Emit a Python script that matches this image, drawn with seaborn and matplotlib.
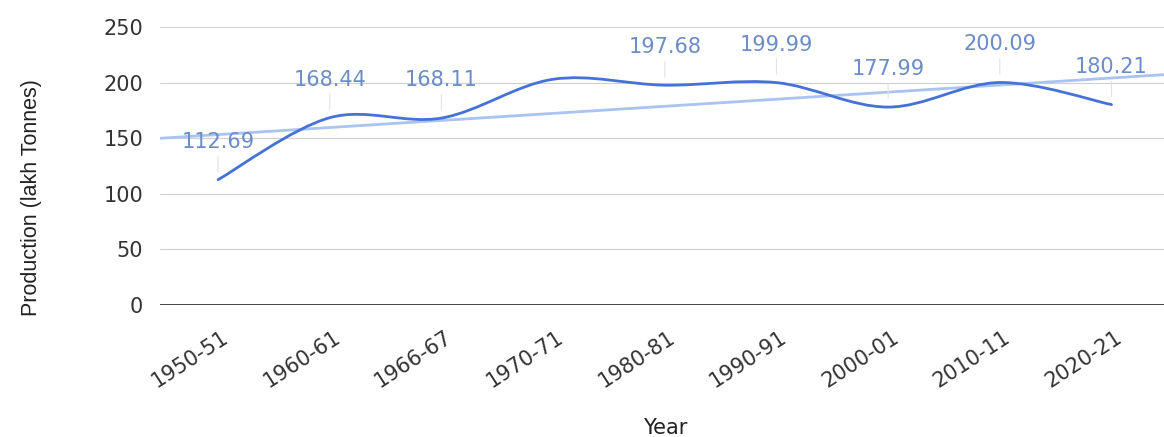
import numpy as np
import matplotlib
matplotlib.use("Agg")
import matplotlib.pyplot as plt
from matplotlib.path import Path
from matplotlib.patches import PathPatch
from matplotlib.transforms import ScaledTranslation
import seaborn as sns

# ---------------- data ----------------
years = ["1950-51", "1960-61", "1966-67", "1970-71", "1980-81",
         "1990-91", "2000-01", "2010-11", "2020-21"]
production = [112.69, 168.44, 168.11, 203.0, 197.68, 199.99, 177.99, 200.09, 180.21]
value_labels = ["112.69", "168.44", "168.11", "", "197.68",
                "199.99", "177.99", "200.09", "180.21"]
y_ticks = [0, 50, 100, 150, 200, 250]

# ---------------- style ----------------
sns.set_theme(style="white")
plt.rcParams["font.family"] = ["DejaVu Sans"]

LINE = "#4472d6"
TREND = "#a9c4f0"
LABEL = "#6b8cc7"

W, H = 1164, 437
fig = plt.figure(figsize=(W / 100, H / 100), dpi=100)
ax = fig.add_axes([160 / W, 1 - 305 / H, 1004 / W, 278 / H])

ax.set_xlim(-0.52, 8.47)
ax.set_ylim(0, 250)

# gridlines
ax.set_yticks(y_ticks)
ax.yaxis.grid(True, color="#cfcfcf", lw=0.8, zorder=0)
ax.xaxis.grid(False)
for s in ax.spines.values():
    s.set_visible(False)
ax.axhline(0, color="#333333", lw=1.3, zorder=3)

# trendline (linear regression extended over the whole plot width)
x_idx = np.arange(len(production))
sns.regplot(x=x_idx, y=production, scatter=False, ci=None, truncate=False,
            ax=ax, color=TREND, line_kws=dict(lw=2.0, zorder=2))
ax.set_xlim(-0.52, 8.47)
ax.set_ylim(0, 250)

# smooth main line (cubic Bezier through the data points)
xs = x_idx.astype(float)
ys = np.asarray(production, dtype=float)
n = len(xs)
verts = [(xs[0], ys[0])]
codes = [Path.MOVETO]
for i in range(n - 1):
    a = i - 1 if i > 0 else i
    b = i + 2 if i + 2 < n else i + 1
    c1 = (xs[i] + (xs[i + 1] - xs[a]) / 6, ys[i] + (ys[i + 1] - ys[a]) / 6)
    c2 = (xs[i + 1] - (xs[b] - xs[i]) / 6, ys[i + 1] - (ys[b] - ys[i]) / 6)
    verts += [c1, c2, (xs[i + 1], ys[i + 1])]
    codes += [Path.CURVE4] * 3
ax.add_patch(PathPatch(Path(verts, codes), fill=False, edgecolor=LINE,
                       lw=2.0, zorder=4, capstyle="round", joinstyle="round"))

# value labels with faint stems
for i, lab in enumerate(value_labels):
    if not lab:
        continue
    ax.annotate(lab, xy=(i, production[i]), xytext=(0, 27.4),
                textcoords="offset points", ha="center", va="center",
                fontsize=15, color=LABEL, annotation_clip=False, zorder=5,
                arrowprops=dict(arrowstyle="-", color="#e2e2e2", lw=0.8,
                                shrinkA=1, shrinkB=6))

# ticks
ax.set_xticks(x_idx)
ax.set_xticklabels(years, rotation=33, ha="right", va="top", fontsize=15,
                   color="#333333")
ax.tick_params(axis="x", length=0, pad=16)
off = ScaledTranslation(14 / 100, 0, fig.dpi_scale_trans)
for t in ax.get_xticklabels():
    t.set_transform(t.get_transform() + off)
ax.tick_params(axis="y", length=0, pad=12, labelsize=15, labelcolor="#333333")

# axis titles
ax.set_ylabel("Production (lakh Tonnes)", fontsize=15.5, color="#222222",
              family=["Liberation Sans", "DejaVu Sans"])
ax.yaxis.set_label_coords(-0.118, 0.385)
ax.set_xlabel("Year", fontsize=15, color="#222222")
ax.xaxis.set_label_coords(0.503, -0.406)

fig.savefig("out.png", dpi=100, facecolor="white")
